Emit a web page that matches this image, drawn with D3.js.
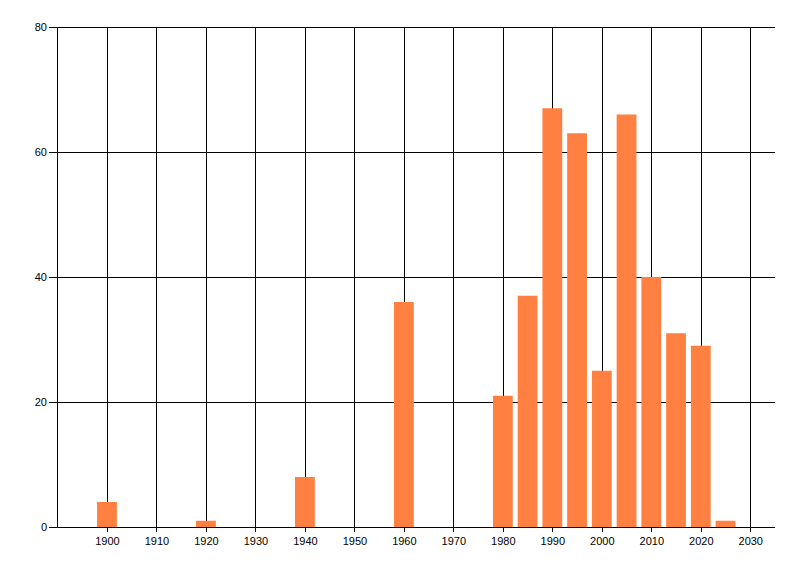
<!DOCTYPE html>
<html>
<head>
<meta charset="utf-8">
<script src="https://cdn.jsdelivr.net/npm/d3@7"></script>
<style>
  body { margin: 0; background: #fff; }
  text { font-family: "Liberation Sans", Arial, sans-serif; font-size: 11px; fill: #000; }
</style>
</head>
<body>
<svg id="chart" width="800" height="576"></svg>
<script>
// bars: one per period start year
var years = [1900, 1920, 1940, 1960, 1980, 1985, 1990, 1995, 2000, 2005, 2010, 2015, 2020, 2025];
var counts = [4, 1, 8, 36, 21, 37, 67, 63, 25, 66, 40, 31, 29, 1];
var xTicks = [1900, 1910, 1920, 1930, 1940, 1950, 1960, 1970, 1980, 1990, 2000, 2010, 2020, 2030];
var yTicks = [0, 20, 40, 60, 80];

var svg = d3.select("#chart");
var plotLeft = 57.5, plotRight = 775, plotTop = 27, plotBottom = 527;

var x = d3.scaleLinear().domain([1890, 2035]).range([plotLeft, plotRight]);
var y = d3.scaleLinear().domain([0, 80]).range([plotBottom, plotTop]);

// grid (vertical lines run past the axis as small ticks)
svg.append("g").selectAll("line").data(xTicks).join("line")
  .attr("x1", function (d) { return Math.round(x(d)) + 0.5; })
  .attr("x2", function (d) { return Math.round(x(d)) + 0.5; })
  .attr("y1", plotTop).attr("y2", plotBottom + 5)
  .attr("stroke", "#000");

svg.append("g").selectAll("line").data(yTicks).join("line")
  .attr("x1", 49).attr("x2", plotRight)
  .attr("y1", function (d) { return Math.round(y(d)) + 0.5; })
  .attr("y2", function (d) { return Math.round(y(d)) + 0.5; })
  .attr("stroke", "#000");

// bars
var bw = x(1894) - x(1890);
svg.append("g").selectAll("rect").data(years).join("rect")
  .attr("x", function (d) { return x(d) - bw / 2; })
  .attr("width", bw)
  .attr("y", function (d, i) { return y(counts[i]); })
  .attr("height", function (d, i) { return y(0) - y(counts[i]); })
  .attr("fill", "#ff8040");

// axis lines on top
svg.append("line").attr("x1", plotLeft).attr("x2", plotLeft)
  .attr("y1", plotTop).attr("y2", plotBottom + 0.5).attr("stroke", "#000");
svg.append("line").attr("x1", 49).attr("x2", plotRight)
  .attr("y1", plotBottom + 0.5).attr("y2", plotBottom + 0.5).attr("stroke", "#000");

// labels
svg.append("g").selectAll("text").data(yTicks).join("text")
  .attr("x", 47).attr("y", function (d) { return y(d); })
  .attr("dy", "0.35em").attr("text-anchor", "end")
  .text(function (d) { return d; });

svg.append("g").selectAll("text").data(xTicks).join("text")
  .attr("x", function (d) { return x(d) + 0.5; }).attr("y", 545)
  .attr("text-anchor", "middle")
  .text(function (d) { return d; });
</script>
</body>
</html>
